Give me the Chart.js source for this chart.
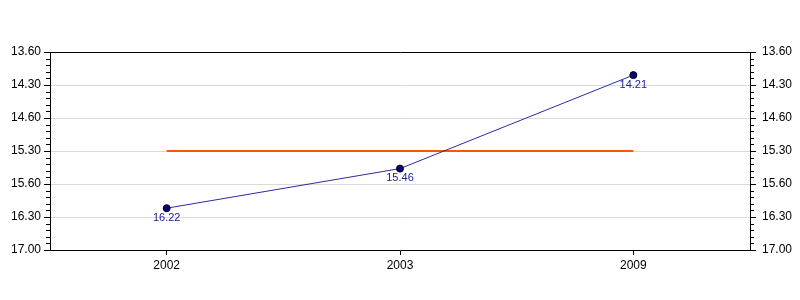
<!DOCTYPE html>
<html>
<head>
<meta charset="utf-8">
<script src="https://cdn.jsdelivr.net/npm/chart.js@4"></script>
<style>
  html, body { margin: 0; padding: 0; background: #fff; }
  #wrap { width: 800px; height: 300px; }
</style>
</head>
<body>
<div id="wrap"><canvas id="chart" width="800" height="300"></canvas></div>
<script>
// Chart data (times are minutes.seconds)
const years = ['2002', '2003', '2009'];
const times = ['16.22', '15.46', '14.21'];
const averageTime = '15.30';
// labels for 14:00 .. 17:00, every 30 seconds, as the original prints them
const yTickLabels = ['13.60', '14.30', '14.60', '15.30', '15.60', '16.30', '17.00'];

// Convert "m.ss" to decimal minutes
function toMinutes(s) {
    const parts = s.split('.').map(Number);
    return parts[0] + parts[1] / 60;
}

const FONT = "'Liberation Sans', Arial, sans-serif";
const Y_MIN = 14;
const Y_MAX = 17;

// Minor ticks, top border and point labels
const extrasPlugin = {
    id: 'extras',
    afterDraw(chart) {
        const ctx = chart.ctx;
        const area = chart.chartArea;
        ctx.save();
        ctx.strokeStyle = '#000';
        ctx.lineWidth = 1;

        // top border
        ctx.beginPath();
        ctx.moveTo(area.left, Math.round(area.top) + 0.5);
        ctx.lineTo(area.right + 1, Math.round(area.top) + 0.5);
        ctx.stroke();

        // minor ticks every 6 seconds
        ['y', 'y2'].forEach(id => {
            const scale = chart.scales[id];
            for (let i = 0; i <= 30; i++) {
                if (i % 5 === 0) continue;
                const py = Math.round(scale.getPixelForValue(Y_MIN + i * 0.1)) + 0.5;
                ctx.beginPath();
                if (id === 'y') {
                    ctx.moveTo(area.left - 4, py);
                    ctx.lineTo(area.left, py);
                } else {
                    ctx.moveTo(area.right, py);
                    ctx.lineTo(area.right + 4, py);
                }
                ctx.stroke();
            }
        });

        // value labels under the points
        const meta = chart.getDatasetMeta(0);
        ctx.fillStyle = '#22228f';
        ctx.font = '11px ' + FONT;
        ctx.textAlign = 'center';
        ctx.textBaseline = 'top';
        meta.data.forEach((pt, i) => {
            ctx.fillText(times[i], pt.x, pt.y + 4);
        });
        ctx.restore();
    }
};

function yAxis(position) {
    return {
        type: 'linear',
        position: position,
        reverse: true,
        min: Y_MIN,
        max: Y_MAX,
        afterFit(scale) { scale.width = 50; },
        ticks: {
            stepSize: 0.5,
            color: '#000',
            padding: position === 'left' ? 3 : 6,
            font: { family: FONT, size: 12 },
            callback: value => yTickLabels[Math.round((value - Y_MIN) / 0.5)]
        },
        grid: {
            drawOnChartArea: position === 'left',
            color: '#d9d9d9',
            tickColor: '#000',
            tickLength: 6
        },
        border: { display: true, color: '#000' }
    };
}

new Chart(document.getElementById('chart'), {
    type: 'line',
    data: {
        labels: years,
        datasets: [
            {
                label: 'Time',
                data: times.map(toMinutes),
                borderColor: '#2b2ba6',
                borderWidth: 1,
                backgroundColor: '#000080',
                pointBackgroundColor: '#000080',
                pointBorderColor: '#000',
                pointBorderWidth: 1,
                pointRadius: 3.5,
                tension: 0,
                yAxisID: 'y'
            },
            {
                label: 'Average',
                data: years.map(() => toMinutes(averageTime)),
                borderColor: '#ff5500',
                borderWidth: 2,
                pointRadius: 0,
                tension: 0,
                yAxisID: 'y'
            }
        ]
    },
    options: {
        responsive: false,
        animation: false,
        layout: { padding: { top: 52, left: 0, right: 0, bottom: 0 } },
        scales: {
            x: {
                offset: true,
                afterFit(scale) { scale.height = 50; },
                ticks: {
                    color: '#000',
                    padding: 3,
                    font: { family: FONT, size: 12 }
                },
                grid: {
                    offset: false,
                    drawOnChartArea: false,
                    tickColor: '#000',
                    tickLength: 5
                },
                border: { display: true, color: '#000' }
            },
            y: yAxis('left'),
            y2: yAxis('right')
        },
        plugins: {
            legend: { display: false },
            tooltip: { enabled: false }
        }
    },
    plugins: [extrasPlugin]
});
</script>
</body>
</html>
